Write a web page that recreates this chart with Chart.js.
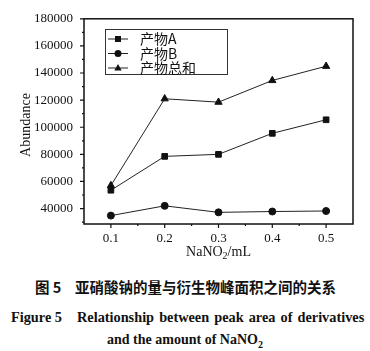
<!DOCTYPE html>
<html>
<head>
<meta charset="utf-8">
<script src="https://cdn.jsdelivr.net/npm/chart.js@4"></script>
<style>
  body { margin: 0; background: #fff; width: 370px; height: 351px; position: relative; overflow: hidden; }
  #wrap { position: absolute; left: 0; top: 0; width: 370px; height: 265px; }
  .cap { position: absolute; left: 0; width: 370px; font-weight: bold; color: #111; white-space: nowrap; }
  .cap span { position: absolute; }
  #c1 { top: 276px; font-family: "Noto Sans CJK SC", sans-serif; font-size: 14.5px; }
  #c2 { top: 309px; font-family: "Liberation Serif", serif; font-size: 14.3px; }
  #c3 { top: 332px; font-family: "Liberation Serif", serif; font-size: 14px; text-align: center; }
</style>
</head>
<body>
<div id="wrap"><canvas id="chart"></canvas></div>
<div class="cap" id="c1"><span style="left:35px">图 5</span><span style="left:75px">亚硝酸钠的量与衍生物峰面积之间的关系</span></div>
<div class="cap" id="c2"><span style="left:11px">Figure 5</span><span style="left:77px; word-spacing:1.5px">Relationship between peak area of derivatives</span></div>
<div class="cap" id="c3">and the amount of NaNO<sub style="font-size:10px">2</sub></div>
<script>
// données
const doses = [0.1, 0.2, 0.3, 0.4, 0.5];
const productA = [53500, 78500, 80000, 95500, 105500];
const productB = [34800, 42000, 37200, 37800, 38200];
const productSum = [57000, 121000, 118500, 134500, 145000];
const seriesNames = ['产物A', '产物B', '产物总和'];
const pointStyles = ['rect', 'circle', 'triangle'];
const yTicks = [40000, 60000, 80000, 100000, 120000, 140000, 160000, 180000];
const xTicks = [0.1, 0.2, 0.3, 0.4, 0.5];

const serif = "'Liberation Serif', 'Times New Roman', serif";

function toPoints(vals) {
    return vals.map((v, i) => ({ x: doses[i], y: v }));
}

function makeDataset(i, vals) {
    return {
        label: seriesNames[i],
        data: toPoints(vals),
        borderColor: '#222',
        backgroundColor: '#111',
        borderWidth: 1,
        pointStyle: pointStyles[i],
        pointRadius: i === 0 ? 4 : (i === 1 ? 3.5 : 4.2),
        pointBackgroundColor: '#111',
        pointBorderColor: '#111',
        pointBorderWidth: 1,
        tension: 0
    };
}

// marqueur dessiné à la main pour la légende
function drawMarker(ctx, style, x, y) {
    ctx.beginPath();
    if (style === 'rect') {
        ctx.rect(x - 3, y - 3, 6, 6);
    } else if (style === 'circle') {
        ctx.arc(x, y, 3.5, 0, Math.PI * 2);
    } else {
        ctx.moveTo(x, y - 4);
        ctx.lineTo(x + 3.7, y + 2.6);
        ctx.lineTo(x - 3.7, y + 2.6);
        ctx.closePath();
    }
    ctx.fill();
}

const framePlugin = {
    id: 'frame',
    afterDraw(chart) {
        const { ctx, chartArea: a, scales: { x, y } } = chart;
        ctx.save();
        ctx.strokeStyle = '#111';
        ctx.fillStyle = '#111';

        // cadre
        ctx.lineWidth = 1.5;
        ctx.strokeRect(a.left, a.top, a.right - a.left, a.bottom - a.top);

        // graduations de l'axe y
        ctx.lineWidth = 1.2;
        const yHalf = (yTicks[1] - yTicks[0]) / 2;
        ctx.beginPath();
        yTicks.forEach(v => {
            const p = y.getPixelForValue(v);
            ctx.moveTo(a.left - 4, p); ctx.lineTo(a.left, p);
            const m = v - yHalf;
            if (m >= y.min) {
                const q = y.getPixelForValue(m);
                ctx.moveTo(a.left - 2, q); ctx.lineTo(a.left, q);
            }
        });
        // graduations de l'axe x
        const xHalf = (xTicks[1] - xTicks[0]) / 2;
        xTicks.forEach(v => {
            const p = x.getPixelForValue(v);
            ctx.moveTo(p, a.bottom); ctx.lineTo(p, a.bottom + 4);
            [v - xHalf, v + xHalf].forEach(m => {
                if (m > x.min && m < x.max) {
                    const q = x.getPixelForValue(m);
                    ctx.moveTo(q, a.bottom); ctx.lineTo(q, a.bottom + 2);
                }
            });
        });
        ctx.stroke();

        // titre de l'axe x avec indice
        ctx.textBaseline = 'alphabetic';
        const p1 = 'NaNO', p3 = '/mL';
        ctx.font = '14px ' + serif;
        const w1 = ctx.measureText(p1).width;
        const w3 = ctx.measureText(p3).width;
        ctx.font = '10px ' + serif;
        const w2 = ctx.measureText('2').width;
        let tx = (a.left + a.right) / 2 - (w1 + w2 + w3) / 2;
        const ty = 256;
        ctx.font = '14px ' + serif;
        ctx.fillText(p1, tx, ty);
        ctx.font = '10px ' + serif;
        ctx.fillText('2', tx + w1, ty + 3);
        ctx.font = '14px ' + serif;
        ctx.fillText(p3, tx + w1 + w2, ty);

        // titre de l'axe y
        ctx.save();
        ctx.translate(30, 125);
        ctx.rotate(-Math.PI / 2);
        ctx.textAlign = 'center';
        ctx.font = '14px ' + serif;
        ctx.fillText('Abundance', 0, 0);
        ctx.restore();

        // légende encadrée
        ctx.lineWidth = 1;
        ctx.strokeStyle = '#333';
        ctx.strokeRect(105.5, 29.5, 122, 45);
        const rows = [39, 53.5, 68];
        chart.data.datasets.forEach((ds, i) => {
            const ry = rows[i];
            ctx.beginPath();
            ctx.moveTo(108, ry); ctx.lineTo(128, ry);
            ctx.strokeStyle = '#222';
            ctx.stroke();
            drawMarker(ctx, ds.pointStyle, 118, ry);
            ctx.font = "14px 'Noto Sans CJK SC', " + serif;
            ctx.textBaseline = 'middle';
            ctx.textAlign = 'left';
            ctx.fillText(ds.label, 140, ry);
        });
        ctx.restore();
    }
};

new Chart(document.getElementById('chart'), {
    type: 'line',
    data: {
        datasets: [
            makeDataset(0, productA),
            makeDataset(1, productB),
            makeDataset(2, productSum)
        ]
    },
    options: {
        responsive: true,
        maintainAspectRatio: false,
        animation: false,
        layout: { padding: { top: 14, right: 17, left: 0, bottom: 0 } },
        scales: {
            x: {
                type: 'linear',
                min: 0.05,
                max: 0.55,
                afterBuildTicks: s => { s.ticks = xTicks.map(v => ({ value: v })); },
                afterFit: s => { s.height = 41; },
                grid: { display: false, drawTicks: false },
                border: { display: false },
                ticks: {
                    color: '#111',
                    padding: 7,
                    maxRotation: 0,
                    font: { family: serif, size: 13 },
                    callback: v => v.toFixed(1)
                }
            },
            y: {
                min: 28600,
                max: 180000,
                afterBuildTicks: s => { s.ticks = yTicks.map(v => ({ value: v })); },
                afterFit: s => { s.width = 84; },
                grid: { display: false, drawTicks: false },
                border: { display: false },
                ticks: {
                    color: '#111',
                    padding: 11,
                    font: { family: serif, size: 13 },
                    callback: v => String(v)
                }
            }
        },
        plugins: {
            legend: { display: false },
            tooltip: { enabled: false }
        }
    },
    plugins: [framePlugin]
});
</script>
</body>
</html>
